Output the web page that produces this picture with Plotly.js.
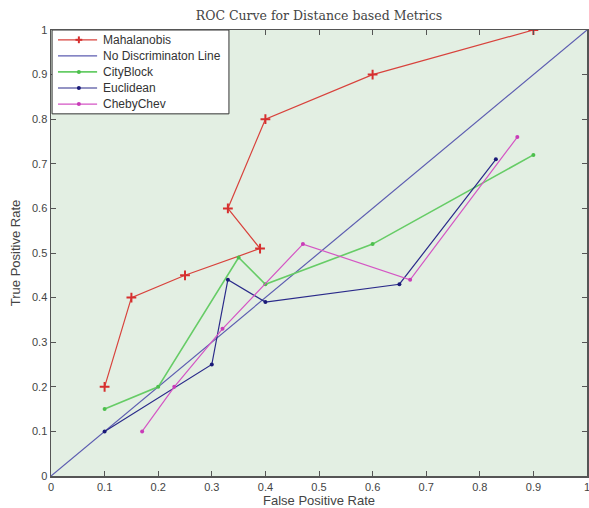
<!DOCTYPE html>
<html>
<head>
<meta charset="utf-8">
<script src="https://cdn.plot.ly/plotly-3.0.1.min.js"></script>
<style>
  html, body { margin: 0; padding: 0; background: #ffffff; }
  #chart { width: 589px; height: 508px; }
</style>
</head>
<body>
<div id="chart"></div>
<script>
// ROC points for each distance metric (false positive rate, true positive rate)
const mahalanobisFPR = [0.10, 0.15, 0.25, 0.39, 0.33, 0.40, 0.60, 0.90];
const mahalanobisTPR = [0.20, 0.40, 0.45, 0.51, 0.60, 0.80, 0.90, 1.00];

const diagonalFPR = [0, 1];
const diagonalTPR = [0, 1];

const cityBlockFPR = [0.10, 0.20, 0.35, 0.40, 0.60, 0.90];
const cityBlockTPR = [0.15, 0.20, 0.49, 0.43, 0.52, 0.72];

const euclideanFPR = [0.10, 0.30, 0.33, 0.40, 0.65, 0.83];
const euclideanTPR = [0.10, 0.25, 0.44, 0.39, 0.43, 0.71];

const chebyChevFPR = [0.17, 0.23, 0.32, 0.47, 0.67, 0.87];
const chebyChevTPR = [0.10, 0.20, 0.33, 0.52, 0.44, 0.76];

const seriesNames = ['Mahalanobis', 'No Discriminaton Line', 'CityBlock', 'Euclidean', 'ChebyChev'];

const tickValues = [0, 0.1, 0.2, 0.3, 0.4, 0.5, 0.6, 0.7, 0.8, 0.9, 1];
const tickLabels = ['0', '0.1', '0.2', '0.3', '0.4', '0.5', '0.6', '0.7', '0.8', '0.9', '1'];

const styles = [
  { line: '#d8423c', width: 1.2, marker: '#d62f2f', symbol: 'cross-thin-open', size: 7 },
  { line: '#5c5cb0', width: 1.2, marker: null },
  { line: '#66cc66', width: 1.6, marker: '#4cbf4c', symbol: 'circle', size: 4 },
  { line: '#2a2a8a', width: 1.2, marker: '#1a1a78', symbol: 'circle', size: 4 },
  { line: '#d455c4', width: 1.2, marker: '#c93cb8', symbol: 'circle', size: 4 }
];

const xs = [mahalanobisFPR, diagonalFPR, cityBlockFPR, euclideanFPR, chebyChevFPR];
const ys = [mahalanobisTPR, diagonalTPR, cityBlockTPR, euclideanTPR, chebyChevTPR];

const traces = seriesNames.map((name, i) => {
  const s = styles[i];
  const t = {
    name: name, x: xs[i], y: ys[i],
    mode: s.marker ? 'lines+markers' : 'lines',
    line: { color: s.line, width: s.width },
    showlegend: false
  };
  if (s.marker) {
    t.marker = { symbol: s.symbol, size: s.size, color: s.marker,
                 line: { color: s.marker, width: s.symbol === 'cross-thin-open' ? 2 : 0 } };
  }
  return t;
});

// Boxed legend in the upper-left corner of the axes
const legendLeft = 0.002, legendRight = 0.332, legendBottom = 0.812;
const sampleX0 = 0.013, sampleX1 = 0.086, sampleMid = 0.052, labelX = 0.093;
const rowY = [0.978, 0.942, 0.906, 0.870, 0.834];
const dx = 2 / 536, dy = 2 / 446;

const shapes = [{
  type: 'rect', xref: 'x', yref: 'y', x0: legendLeft, x1: legendRight, y0: legendBottom, y1: 1,
  fillcolor: '#ffffff', line: { color: '#333333', width: 1 }, layer: 'above'
}];
const annotations = [];
seriesNames.forEach((name, i) => {
  const s = styles[i];
  const y = rowY[i];
  shapes.push({ type: 'line', xref: 'x', yref: 'y', x0: sampleX0, x1: sampleX1, y0: y, y1: y,
                line: { color: s.line, width: s.width }, layer: 'above' });
  if (s.symbol === 'cross-thin-open') {
    shapes.push({ type: 'line', xref: 'x', yref: 'y', x0: sampleMid - 1.7 * dx, x1: sampleMid + 1.7 * dx,
                  y0: y, y1: y, line: { color: s.marker, width: 2 }, layer: 'above' });
    shapes.push({ type: 'line', xref: 'x', yref: 'y', x0: sampleMid, x1: sampleMid,
                  y0: y - 1.7 * dy, y1: y + 1.7 * dy, line: { color: s.marker, width: 2 }, layer: 'above' });
  } else if (s.marker) {
    shapes.push({ type: 'circle', xref: 'x', yref: 'y', x0: sampleMid - dx, x1: sampleMid + dx,
                  y0: y - dy, y1: y + dy, fillcolor: s.marker, line: { width: 0 }, layer: 'above' });
  }
  annotations.push({ xref: 'x', yref: 'y', x: labelX, y: y, text: name, showarrow: false,
                     xanchor: 'left', yanchor: 'middle',
                     font: { family: 'Liberation Sans, Arial, sans-serif', size: 12, color: '#333333' } });
});

const axisCommon = {
  range: [0, 1],
  tickvals: tickValues,
  ticktext: tickLabels,
  ticks: 'inside',
  ticklen: 5,
  tickcolor: '#555555',
  showline: true,
  linecolor: '#555555',
  linewidth: 1.5,
  mirror: 'ticks',
  showgrid: false,
  zeroline: false,
  ticklabeloverflow: 'allow',
  tickfont: { family: 'Liberation Sans, Arial, sans-serif', size: 11, color: '#444444' },
  fixedrange: true
};

const layout = {
  width: 589,
  height: 508,
  margin: { l: 51, r: 2, t: 30, b: 32 },
  paper_bgcolor: '#ffffff',
  plot_bgcolor: '#e3efe3',
  title: {
    text: 'ROC Curve for Distance based Metrics',
    font: { family: 'DejaVu Serif, Liberation Serif, serif', size: 12.5, color: '#444444' },
    x: 0.5416, xanchor: 'center', y: 0.977, yanchor: 'top'
  },
  xaxis: Object.assign({}, axisCommon, {
    title: { text: 'False Positive Rate', standoff: 2,
      font: { family: 'Liberation Sans, Arial, sans-serif', size: 13, color: '#444444' } }
  }),
  yaxis: Object.assign({}, axisCommon, {
    title: { text: 'True Positive Rate', standoff: 8,
      font: { family: 'Liberation Sans, Arial, sans-serif', size: 13, color: '#444444' } }
  }),
  showlegend: false,
  shapes: shapes,
  annotations: annotations
};

Plotly.newPlot('chart', traces, layout, { displayModeBar: false, staticPlot: true });
</script>
</body>
</html>
